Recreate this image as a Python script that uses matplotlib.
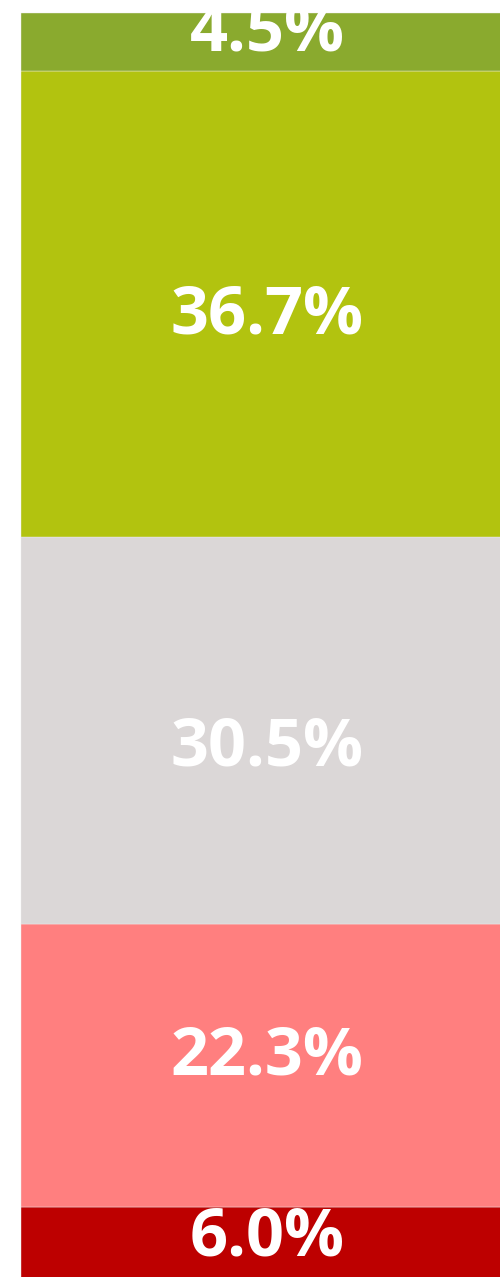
import numpy as np
import matplotlib.pyplot as plt

# Segmentos de la barra apilada (de abajo hacia arriba)
etiquetas = ['6.0%', '22.3%', '30.5%', '36.7%', '4.5%']
valores = [6.0, 22.3, 30.5, 36.7, 4.5]
colores = ['#bd0000', '#ff7f7f', '#dbd7d7', '#b2c30f', '#8aaa2e']
# desplazamiento vertical de cada etiqueta (pixeles)
desplaz = [7, 9, -18, -12, 9]

fig = plt.figure(figsize=(5.0, 12.77), dpi=100)
ax = fig.add_axes([0, 0, 1, 1])

base = 0.0
for val, col, txt, dy in zip(valores, colores, etiquetas, desplaz):
    ax.bar(0, val, bottom=base, width=1.0, color=col,
           edgecolor='#ececec', linewidth=0.3)
    ax.annotate(txt, (0, base + val / 2), xytext=(0, dy),
                textcoords='offset pixels', ha='center', va='center',
                color='white', fontsize=48, fontweight='bold',
                family=['Open Sans', 'DejaVu Sans'], annotation_clip=False)
    base += val

ax.set_xlim(-0.5416, 0.4726)
ax.set_ylim(0.51, 101.06)
ax.axis('off')

fig.savefig('out.png', dpi=100)
